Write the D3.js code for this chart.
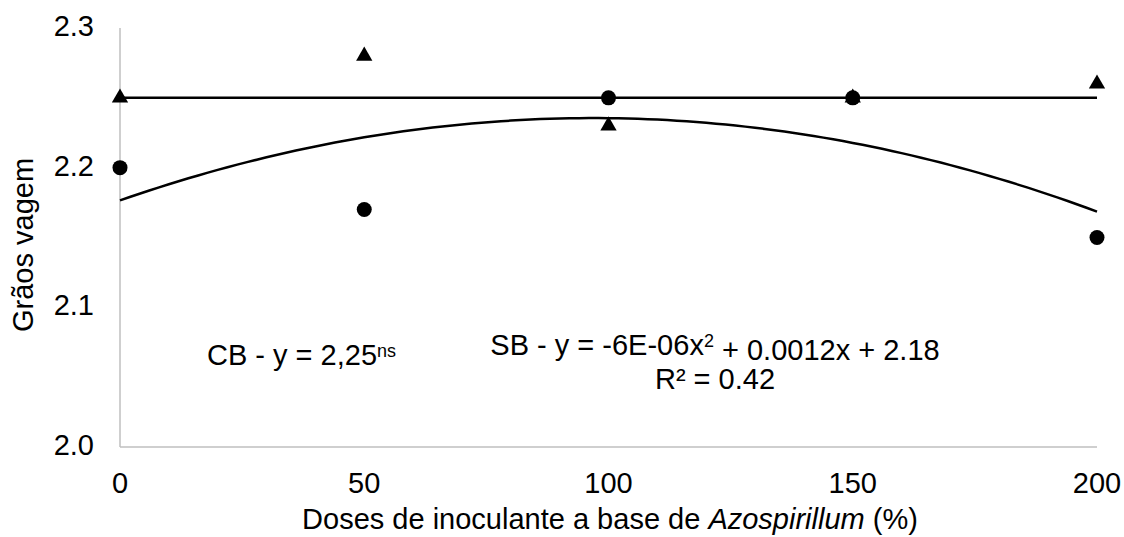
<!DOCTYPE html>
<html>
<head>
<meta charset="utf-8">
<script src="https://cdn.jsdelivr.net/npm/d3@7"></script>
<style>
  body { margin: 0; background: #fff; }
  text { font-family: "Liberation Sans", Arial, sans-serif; fill: #000; }
</style>
</head>
<body>
<svg width="1124" height="537"></svg>
<script>
// doses (%) and observed values
const doses = [0, 50, 100, 150, 200];
const cbValues = [2.25, 2.28, 2.23, 2.25, 2.26]; // triangles
const sbValues = [2.20, 2.17, 2.25, 2.25, 2.15]; // circles
const cbConstant = 2.25;
const xTicks = [0, 50, 100, 150, 200];
const yTicks = [2.0, 2.1, 2.2, 2.3];

const svg = d3.select('svg');
const margin = { left: 120, right: 27, top: 28, bottom: 90 };
const width = 1124, height = 537;
const fontSize = '29px';

const x = d3.scaleLinear().domain([0, 200]).range([margin.left, width - margin.right]);
const y = d3.scaleLinear().domain([2.0, 2.3]).range([height - margin.bottom, margin.top]);

// quadratic least squares fit for SB
function quadFit(xs, ys) {
  let s = [0, 0, 0, 0, 0], t = [0, 0, 0];
  xs.forEach((xi, i) => {
    for (let k = 0; k < 5; k++) s[k] += Math.pow(xi, k);
    for (let k = 0; k < 3; k++) t[k] += Math.pow(xi, k) * ys[i];
  });
  const A = [[s[0], s[1], s[2], t[0]], [s[1], s[2], s[3], t[1]], [s[2], s[3], s[4], t[2]]];
  for (let i = 0; i < 3; i++) {
    for (let j = i + 1; j < 3; j++) {
      const f = A[j][i] / A[i][i];
      for (let k = i; k < 4; k++) A[j][k] -= f * A[i][k];
    }
  }
  const c = [0, 0, 0];
  for (let i = 2; i >= 0; i--) {
    let v = A[i][3];
    for (let k = i + 1; k < 3; k++) v -= A[i][k] * c[k];
    c[i] = v / A[i][i];
  }
  return xv => c[0] + c[1] * xv + c[2] * xv * xv;
}
const sbFit = quadFit(doses, sbValues);

// axes lines
svg.append('line')
  .attr('x1', x(0)).attr('x2', x(0))
  .attr('y1', y(2.3)).attr('y2', y(2.0))
  .attr('stroke', '#bfbfbf').attr('stroke-width', 1.5);
svg.append('line')
  .attr('x1', x(0)).attr('x2', x(200))
  .attr('y1', y(2.0)).attr('y2', y(2.0))
  .attr('stroke', '#bfbfbf').attr('stroke-width', 1.5);

// tick labels
svg.selectAll('.ytick').data(yTicks).enter().append('text')
  .attr('x', 94).attr('y', d => y(d) + 8)
  .attr('text-anchor', 'end')
  .style('font-size', fontSize)
  .text(d => d.toFixed(1));

svg.selectAll('.xtick').data(xTicks).enter().append('text')
  .attr('x', d => x(d)).attr('y', 493)
  .attr('text-anchor', 'middle')
  .style('font-size', fontSize)
  .text(d => d);

// axis titles
const xt = svg.append('text')
  .attr('x', 610).attr('y', 529)
  .attr('text-anchor', 'middle')
  .style('font-size', fontSize);
xt.append('tspan').text('Doses de inoculante a base de ');
xt.append('tspan').style('font-style', 'italic').text('Azospirillum');
xt.append('tspan').text(' (%)');

svg.append('text')
  .attr('transform', 'translate(33,245) rotate(-90)')
  .attr('text-anchor', 'middle')
  .style('font-size', fontSize)
  .text('Grãos vagem');

// trend lines
svg.append('line')
  .attr('x1', x(0)).attr('x2', x(200))
  .attr('y1', y(cbConstant)).attr('y2', y(cbConstant))
  .attr('stroke', '#000').attr('stroke-width', 2.5);

const curveX = d3.range(0, 200.01, 2);
svg.append('path')
  .datum(curveX)
  .attr('fill', 'none')
  .attr('stroke', '#000').attr('stroke-width', 2.5)
  .attr('d', d3.line().x(d => x(d)).y(d => y(sbFit(d))));

// markers
svg.selectAll('.sb').data(doses).enter().append('circle')
  .attr('cx', d => x(d)).attr('cy', (d, i) => y(sbValues[i]))
  .attr('r', 7.5).attr('fill', '#000');

svg.selectAll('.cb').data(doses).enter().append('path')
  .attr('transform', (d, i) => 'translate(' + x(d) + ',' + y(cbValues[i]) + ')')
  .attr('d', d3.symbol().type(d3.symbolTriangle).size(115))
  .attr('fill', '#000');

// equations
const cb = svg.append('text')
  .attr('x', 207).attr('y', 365)
  .style('font-size', fontSize);
cb.append('tspan').text('CB - y = 2,25');
cb.append('tspan').attr('dy', '-0.45em').style('font-size', '18px').text('ns');

const sb = svg.append('text')
  .attr('x', 715).attr('y', 355)
  .attr('text-anchor', 'middle')
  .style('font-size', fontSize);
sb.append('tspan').text('SB - y = -6E-06x');
sb.append('tspan').attr('dy', '-0.45em').style('font-size', '18px').text('2');
sb.append('tspan').attr('dy', '0.45em').text(' + 0.0012x + 2.18');

svg.append('text')
  .attr('x', 715).attr('y', 389)
  .attr('text-anchor', 'middle')
  .style('font-size', fontSize)
  .text('R² = 0.42');
</script>
</body>
</html>
